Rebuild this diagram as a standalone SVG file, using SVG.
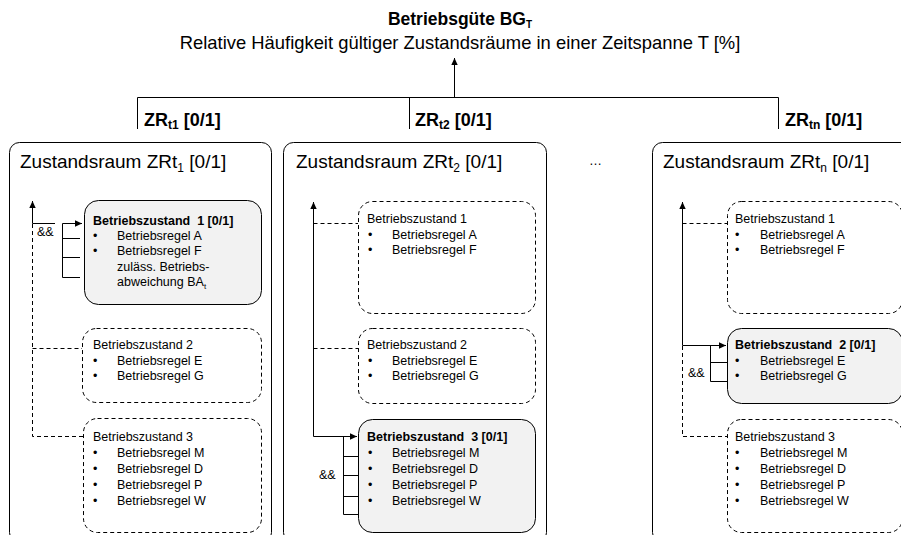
<svg xmlns="http://www.w3.org/2000/svg" width="901" height="535" viewBox="0 0 901 535">
<style>
text{font-family:"Liberation Sans",Arial,sans-serif;fill:#000}
.t{font-size:12.5px}
.b{font-weight:bold}
.ttl{font-size:19px}
.lbl{font-size:18px;font-weight:bold}
.outer{fill:#fff;stroke:#000;stroke-width:1}
.dash{fill:none;stroke:#000;stroke-width:1;stroke-dasharray:4,3}
.gray{fill:#f2f2f2;stroke:#000;stroke-width:1}
.ln{fill:none;stroke:#000;stroke-width:1}
.dl{fill:none;stroke:#000;stroke-width:1;stroke-dasharray:4,3}
.arr{marker-end:url(#ah)}
</style>
<defs>
<marker id="ah" markerUnits="userSpaceOnUse" markerWidth="8" markerHeight="8" viewBox="0 0 8 8" refX="7" refY="4" orient="auto">
<path d="M0,0.8 L7,4 L0,7.2 Z" fill="#000"/>
</marker>
</defs>
<rect width="901" height="535" fill="#fff"/>

<g id="header">
<text x="460" y="25" text-anchor="middle" style="font-size:17.5px;font-weight:bold">Betriebsgüte BG<tspan dy="3" style="font-size:10px">T</tspan></text>
<text x="460" y="49" text-anchor="middle" style="font-size:18.4px">Relative Häufigkeit gültiger Zustandsräume in einer Zeitspanne T [%]</text>
</g>

<g id="top-labels">
<text x="144" y="126" class="lbl">ZR<tspan dy="3" style="font-size:12px">t1</tspan><tspan dy="-3"> [0/1]</tspan></text>
<text x="415" y="126" class="lbl">ZR<tspan dy="3" style="font-size:12px">t2</tspan><tspan dy="-3"> [0/1]</tspan></text>
<text x="785" y="126" class="lbl">ZR<tspan dy="3" style="font-size:12px">tn</tspan><tspan dy="-3"> [0/1]</tspan></text>
</g>

<g id="zr1">
<rect class="outer" x="9.5" y="142.5" width="262" height="400" rx="10"/>
<text x="20" y="168" class="ttl">Zustandsraum ZRt<tspan dy="4" style="font-size:12px">1</tspan><tspan dy="-4"> [0/1]</tspan></text>
<g id="zr1-bz1">
<rect class="gray" x="84.5" y="200.5" width="177" height="104" rx="14"/>
<text x="93" y="225" class="t b">Betriebszustand&#160; 1 [0/1]</text>
<text x="93" y="239.5" class="t">•</text><text x="117" y="239.5" class="t">Betriebsregel A</text>
<text x="93" y="255" class="t">•</text><text x="117" y="255" class="t">Betriebsregel F</text>
<text x="117" y="270.5" class="t">zuläss. Betriebs-</text>
<text x="117" y="286" class="t">abweichung BA<tspan dy="3" style="font-size:8px">t</tspan></text>
</g>
<g id="zr1-bz2">
<rect class="dash" x="82.5" y="328.5" width="179" height="74" rx="14"/>
<text x="93" y="349" class="t">Betriebszustand 2</text>
<text x="93" y="365" class="t">•</text><text x="117" y="365" class="t">Betriebsregel E</text>
<text x="93" y="380" class="t">•</text><text x="117" y="380" class="t">Betriebsregel G</text>
</g>
<g id="zr1-bz3">
<rect class="dash" x="83.5" y="418.5" width="178" height="114" rx="14"/>
<text x="93" y="441" class="t">Betriebszustand 3</text>
<text x="93" y="457" class="t">•</text><text x="117" y="457" class="t">Betriebsregel M</text>
<text x="93" y="473" class="t">•</text><text x="117" y="473" class="t">Betriebsregel D</text>
<text x="93" y="489" class="t">•</text><text x="117" y="489" class="t">Betriebsregel P</text>
<text x="93" y="505" class="t">•</text><text x="117" y="505" class="t">Betriebsregel W</text>
</g>
<text x="37" y="236" class="t">&amp;&amp;</text>
</g>

<g id="zr2">
<rect class="outer" x="283.5" y="142.5" width="263" height="400" rx="10"/>
<text x="296" y="168" class="ttl">Zustandsraum ZRt<tspan dy="4" style="font-size:12px">2</tspan><tspan dy="-4"> [0/1]</tspan></text>
<g id="zr2-bz1">
<rect class="dash" x="358.5" y="201.5" width="177" height="112" rx="14"/>
<text x="367" y="223" class="t">Betriebszustand 1</text>
<text x="368" y="239" class="t">•</text><text x="392" y="239" class="t">Betriebsregel A</text>
<text x="368" y="254" class="t">•</text><text x="392" y="254" class="t">Betriebsregel F</text>
</g>
<g id="zr2-bz2">
<rect class="dash" x="358.5" y="328.5" width="177" height="75" rx="14"/>
<text x="367" y="349" class="t">Betriebszustand 2</text>
<text x="368" y="365" class="t">•</text><text x="392" y="365" class="t">Betriebsregel E</text>
<text x="368" y="380" class="t">•</text><text x="392" y="380" class="t">Betriebsregel G</text>
</g>
<g id="zr2-bz3">
<rect class="gray" x="358.5" y="419.5" width="177" height="113" rx="14"/>
<text x="367" y="441" class="t b">Betriebszustand&#160; 3 [0/1]</text>
<text x="368" y="457" class="t">•</text><text x="392" y="457" class="t">Betriebsregel M</text>
<text x="368" y="473" class="t">•</text><text x="392" y="473" class="t">Betriebsregel D</text>
<text x="368" y="489" class="t">•</text><text x="392" y="489" class="t">Betriebsregel P</text>
<text x="368" y="505" class="t">•</text><text x="392" y="505" class="t">Betriebsregel W</text>
</g>
<text x="319" y="479" class="t">&amp;&amp;</text>
</g>

<g id="ellipsis"><text x="589" y="165" style="font-size:13px">…</text></g>

<g id="zrn">
<rect class="outer" x="652.5" y="142.5" width="265" height="400" rx="10"/>
<text x="663" y="168" class="ttl">Zustandsraum ZRt<tspan dy="4" style="font-size:12px">n</tspan><tspan dy="-4"> [0/1]</tspan></text>
<g id="zrn-bz1">
<rect class="dash" x="727.5" y="201.5" width="175" height="112" rx="14"/>
<text x="735" y="223" class="t">Betriebszustand 1</text>
<text x="735" y="239" class="t">•</text><text x="760" y="239" class="t">Betriebsregel A</text>
<text x="735" y="254" class="t">•</text><text x="760" y="254" class="t">Betriebsregel F</text>
</g>
<g id="zrn-bz2">
<rect class="gray" x="727.5" y="328.5" width="175" height="75" rx="14"/>
<text x="735" y="349" class="t b">Betriebszustand&#160; 2 [0/1]</text>
<text x="735" y="365" class="t">•</text><text x="760" y="365" class="t">Betriebsregel E</text>
<text x="735" y="380" class="t">•</text><text x="760" y="380" class="t">Betriebsregel G</text>
</g>
<g id="zrn-bz3">
<rect class="dash" x="727.5" y="419.5" width="175" height="113" rx="14"/>
<text x="735" y="441" class="t">Betriebszustand 3</text>
<text x="735" y="457" class="t">•</text><text x="760" y="457" class="t">Betriebsregel M</text>
<text x="735" y="473" class="t">•</text><text x="760" y="473" class="t">Betriebsregel D</text>
<text x="735" y="489" class="t">•</text><text x="760" y="489" class="t">Betriebsregel P</text>
<text x="735" y="505" class="t">•</text><text x="760" y="505" class="t">Betriebsregel W</text>
</g>
<text x="688" y="377" class="t">&amp;&amp;</text>
</g>

<g id="connectors">
<path class="ln arr" d="M454.5,97 V58"/>
<path class="ln" d="M137.5,129 V97.5 H778.5 V129 M409.5,97.5 V129"/>
<path class="ln arr" d="M32.5,223.5 V201"/>
<path class="ln" d="M32.5,223.5 H55"/>
<path class="dl" d="M32.5,224 V436.5 H83 M32.5,348.5 H82"/>
<path class="ln arr" d="M62.5,223.5 H82"/>
<path class="ln" d="M62.5,223.5 V277.5 M62.5,238.5 H80 M62.5,257.5 H80 M62.5,277.5 H80"/>
<path class="ln arr" d="M313.5,436.5 V202"/>
<path class="ln arr" d="M313.5,436.5 H357"/>
<path class="dl" d="M313.5,223.5 H358 M313.5,348.5 H358"/>
<path class="ln" d="M343.5,436.5 V514.5 M343.5,456.5 H358 M343.5,475.5 H358 M343.5,496.5 H358 M343.5,514.5 H358"/>
<path class="ln arr" d="M682.5,345.5 V202"/>
<path class="ln arr" d="M682.5,345.5 H726"/>
<path class="dl" d="M682.5,346 V436.5 H727 M682.5,223.5 H727"/>
<path class="ln" d="M710.5,345.5 V381.5 M710.5,362.5 H727 M710.5,381.5 H727"/>
</g>
</svg>
